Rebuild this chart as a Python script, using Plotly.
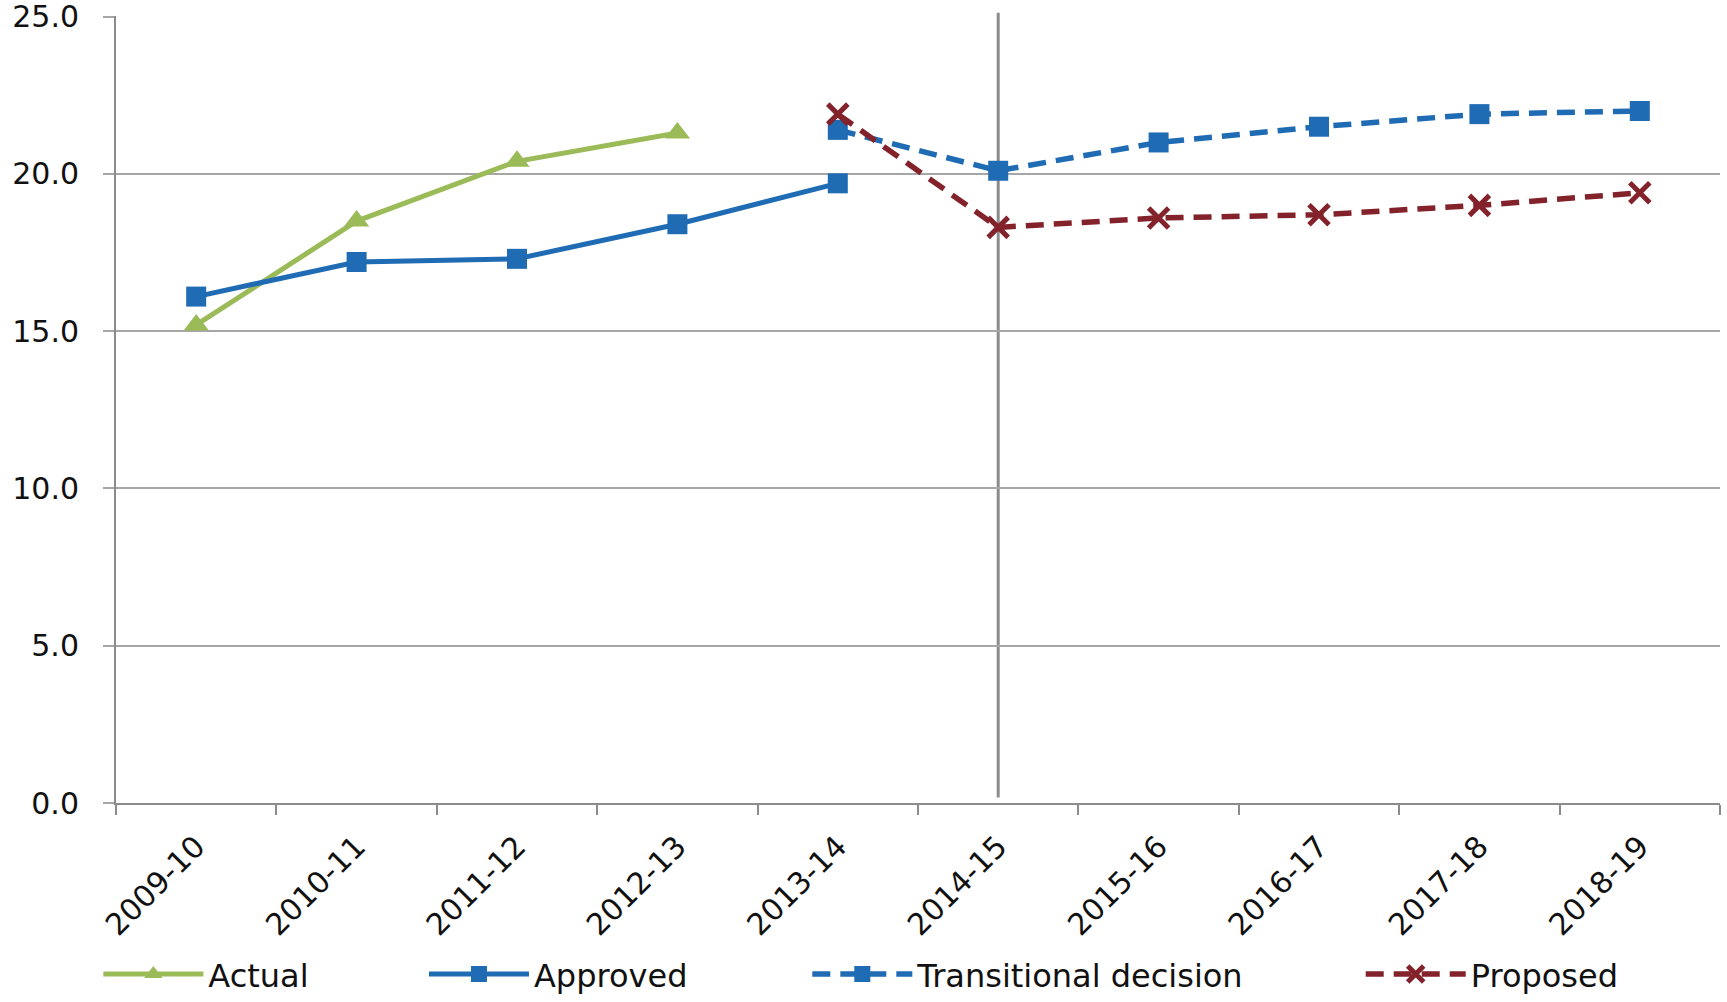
import plotly.graph_objects as go

# Financial years on the category axis
years = ["2009-10", "2010-11", "2011-12", "2012-13", "2013-14",
         "2014-15", "2015-16", "2016-17", "2017-18", "2018-19"]

# Series values
actual_years = years[0:4]
actual = [15.2, 18.5, 20.4, 21.3]

approved_years = years[0:5]
approved = [16.1, 17.2, 17.3, 18.4, 19.7]

transitional_years = years[4:10]
transitional = [21.4, 20.1, 21.0, 21.5, 21.9, 22.0]

proposed_years = years[4:10]
proposed = [21.9, 18.3, 18.6, 18.7, 19.0, 19.4]

y_ticks = [0, 5, 10, 15, 20, 25]
divider_year = "2014-15"

GREEN = "#9BBB59"
BLUE = "#1F6BB4"
RED = "#83222A"
GRID = "#A6A6A6"
AXIS = "#8C8C8C"
FONT = "DejaVu Sans"
TEXT = "#111111"

fig = go.Figure()

fig.add_trace(go.Scatter(
    x=actual_years, y=actual, name="Actual", mode="lines+markers",
    line=dict(color=GREEN, width=5),
    marker=dict(symbol="triangle-up", size=22, color=GREEN),
    legend="legend",
))
fig.add_trace(go.Scatter(
    x=approved_years, y=approved, name="Approved", mode="lines+markers",
    line=dict(color=BLUE, width=5),
    marker=dict(symbol="square", size=20, color=BLUE),
    legend="legend2",
))
fig.add_trace(go.Scatter(
    x=transitional_years, y=transitional, name="Transitional decision",
    mode="lines+markers",
    line=dict(color=BLUE, width=5.5, dash="18px,10px"),
    marker=dict(symbol="square", size=20, color=BLUE),
    legend="legend3",
))
fig.add_trace(go.Scatter(
    x=proposed_years, y=proposed, name="Proposed", mode="lines+markers",
    line=dict(color=RED, width=5.5, dash="18px,10px"),
    marker=dict(symbol="x-thin", size=20, color=RED,
                line=dict(color=RED, width=5)),
    legend="legend4",
))

# Vertical divider at the transitional year
fig.add_shape(
    type="line", xref="x", yref="paper",
    x0=divider_year, x1=divider_year, y0=0.007, y1=1.004,
    line=dict(color=AXIS, width=3), layer="below",
)

legend_common = dict(
    orientation="h", yanchor="bottom", y=-0.2525, xanchor="left",
    font=dict(family=FONT, size=32, color=TEXT),
    itemwidth=100, bgcolor="rgba(0,0,0,0)", borderwidth=0,
)

fig.update_layout(
    template="none",
    width=1727, height=1002,
    margin=dict(l=116, r=7, t=16, b=199, autoexpand=False),
    paper_bgcolor="white", plot_bgcolor="white",
    font=dict(family=FONT, size=30, color=TEXT),
    showlegend=True,
    legend=dict(x=-0.011, **legend_common),
    legend2=dict(x=0.192, **legend_common),
    legend3=dict(x=0.431, **legend_common),
    legend4=dict(x=0.776, **legend_common),
    xaxis=dict(
        type="category", categoryorder="array", categoryarray=years,
        range=[-0.5, len(years) - 0.5], automargin=False,
        showgrid=False, showline=True, linecolor=AXIS, linewidth=2,
        ticks="outside", tickson="boundaries", ticklen=10, tickwidth=2,
        tickcolor=AXIS, tickangle=-45, ticklabelstandoff=12,
        tickfont=dict(family=FONT, size=30, color=TEXT),
        zeroline=False,
    ),
    yaxis=dict(
        range=[0, 25.02], tickvals=y_ticks, tickformat=".1f",
        automargin=False,
        showgrid=True, gridcolor=GRID, gridwidth=2,
        showline=True, linecolor=AXIS, linewidth=2,
        ticks="outside", ticklen=11, tickwidth=2, tickcolor=GRID,
        ticklabelstandoff=18, ticklabeloverflow="allow",
        tickfont=dict(family=FONT, size=30, color=TEXT),
        zeroline=False,
    ),
)

fig.write_html("out.html")
